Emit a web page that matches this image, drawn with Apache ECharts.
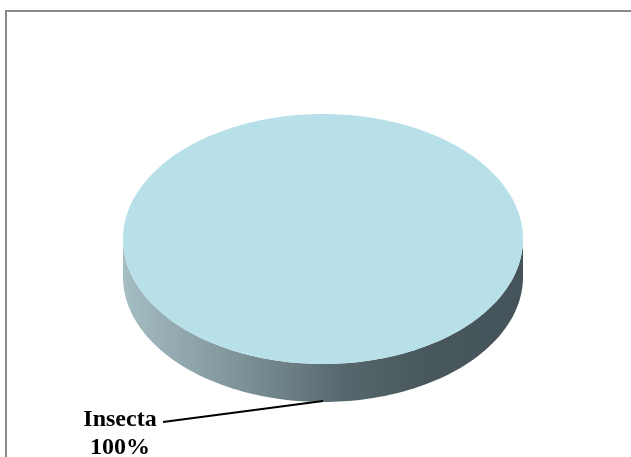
<!DOCTYPE html>
<html>
<head>
<meta charset="utf-8">
<script src="https://cdn.jsdelivr.net/npm/echarts@6/dist/echarts.min.js"></script>
<style>
  html, body { margin: 0; padding: 0; background: #fff; }
  #chart { width: 631px; height: 457px; }
</style>
</head>
<body>
<div id="chart"></div>
<script>
// data
var categories = ["Insecta"];
var values = [100];

var total = values.reduce(function (a, b) { return a + b; }, 0);

// layout of the tilted disc
var cx = 323, cy = 239, rx = 200, ry = 125, depth = 38;

function pt(t, dy) {
  return [cx + rx * Math.cos(t), cy + ry * Math.sin(t) + (dy || 0)];
}

// part of [a, b] that lies on the front (0..PI) of the disc
function frontPart(a, b) {
  for (var k = -2; k <= 2; k++) {
    var lo = Math.max(a, k * 2 * Math.PI), hi = Math.min(b, k * 2 * Math.PI + Math.PI);
    if (hi > lo) return [lo, hi];
  }
  return null;
}

function renderItem(params, api) {
  var i = params.dataIndex;
  var before = 0;
  for (var j = 0; j < i; j++) before += values[j];
  var t0 = -Math.PI / 2 + before / total * 2 * Math.PI;
  var t1 = t0 + api.value(0) / total * 2 * Math.PI;
  var n = 120, k, children = [];

  // side wall
  var fp = frontPart(t0, t1);
  if (fp) {
    var side = [];
    for (k = 0; k <= n; k++) side.push(pt(fp[0] + (fp[1] - fp[0]) * k / n, 0));
    for (k = n; k >= 0; k--) side.push(pt(fp[0] + (fp[1] - fp[0]) * k / n, depth));
    children.push({
      type: "polygon",
      shape: { points: side },
      style: {
        fill: new echarts.graphic.LinearGradient(0, 0, 1, 0, [
          { offset: 0, color: "#a5bec3" },
          { offset: 0.3, color: "#7c9297" },
          { offset: 0.55, color: "#56686d" },
          { offset: 0.75, color: "#48585d" },
          { offset: 1, color: "#45545a" }
        ])
      }
    });
  }

  // top face
  var top = [];
  if (t1 - t0 < 2 * Math.PI - 1e-6) top.push([cx, cy]);
  for (k = 0; k <= n * 2; k++) top.push(pt(t0 + (t1 - t0) * k / (n * 2), 0));
  children.push({
    type: "polygon",
    shape: { points: top },
    style: { fill: "#b8e0e8" }
  });

  // label with leader line
  var tm = (t0 + t1) / 2;
  var a = pt(tm, Math.sin(tm) > 0 ? depth : 0);
  children.push({
    type: "line",
    shape: { x1: a[0], y1: a[1] - 1, x2: a[0] - 160, y2: a[1] + 20 },
    style: { stroke: "#000", lineWidth: 2 }
  });
  children.push({
    type: "text",
    style: {
      x: a[0] - 203,
      y: a[1] + 32,
      text: categories[i] + "\n" + Math.round(api.value(0) / total * 100) + "%",
      align: "center",
      verticalAlign: "middle",
      lineHeight: 28,
      fill: "#000",
      font: "bold 24px 'Liberation Serif', 'Times New Roman', serif"
    }
  });

  return { type: "group", children: children };
}

var myChart = echarts.init(document.getElementById("chart"));
var option = {
  backgroundColor: "#fff",
  animation: false,
  graphic: [
    {
      type: "rect",
      shape: { x: 6, y: 11, width: 700, height: 500 },
      style: { fill: "none", stroke: "#8a8a8a", lineWidth: 2 },
      z: -1
    }
  ],
  series: [
    {
      type: "custom",
      coordinateSystem: "none",
      renderItem: renderItem,
      data: values.map(function (v) { return [v]; })
    }
  ]
};
myChart.setOption(option);
</script>
</body>
</html>
